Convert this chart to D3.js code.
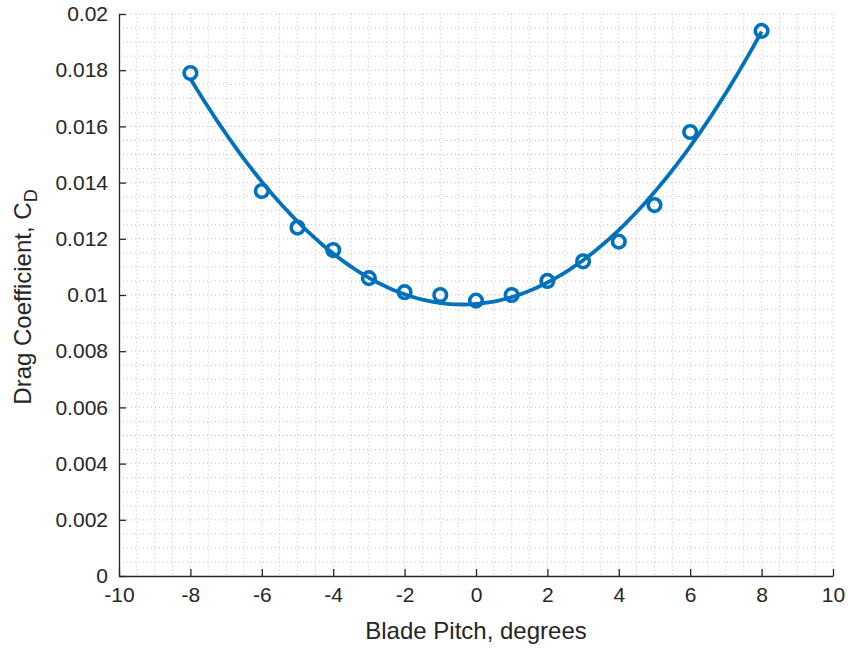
<!DOCTYPE html>
<html>
<head>
<meta charset="utf-8">
<script src="https://cdn.jsdelivr.net/npm/d3@7"></script>
<style>
  body { margin: 0; background: #fff; }
  svg { font-family: "Liberation Sans", Arial, sans-serif; }
</style>
</head>
<body>
<div id="chart"></div>
<script>
// Data
const pitch = [-8, -6, -5, -4, -3, -2, -1, 0, 1, 2, 3, 4, 5, 6, 8];
const dragCoef = [0.0179, 0.0137, 0.0124, 0.0116, 0.0106, 0.0101, 0.0100, 0.0098, 0.0100, 0.0105, 0.0112, 0.0119, 0.0132, 0.0158, 0.0194];
const xTicks = [-10, -8, -6, -4, -2, 0, 2, 4, 6, 8, 10];
const yTicks = [0, 0.002, 0.004, 0.006, 0.008, 0.01, 0.012, 0.014, 0.016, 0.018, 0.02];

const W = 848, H = 650;
const margin = {top: 14, right: 15, bottom: 74, left: 119};
const width = W - margin.left - margin.right;
const height = H - margin.top - margin.bottom;
const blue = "#0072BD";

const svg = d3.select("#chart").append("svg")
    .attr("width", W)
    .attr("height", H);
const g = svg.append("g")
    .attr("transform", `translate(${margin.left},${margin.top})`);

const x = d3.scaleLinear().domain([-10, 10]).range([0, width]);
const y = d3.scaleLinear().domain([0, 0.02]).range([height, 0]);

// dotted grid (minor + major)
const gridX = d3.range(-10, 10.001, 0.5);
const gridY = d3.range(0, 0.02001, 0.0005);
g.append("g").selectAll("line").data(gridX.filter(d => d > -10)).enter().append("line")
    .attr("x1", d => x(d)).attr("x2", d => x(d))
    .attr("y1", 0).attr("y2", height)
    .attr("stroke", "#c4c4c4").attr("stroke-width", 1)
    .attr("stroke-dasharray", "1,3");
g.append("g").selectAll("line").data(gridY.filter(d => d > 0)).enter().append("line")
    .attr("x1", 0).attr("x2", width)
    .attr("y1", d => y(d)).attr("y2", d => y(d))
    .attr("stroke", "#c4c4c4").attr("stroke-width", 1)
    .attr("stroke-dasharray", "1,3");

// axes, ticks pointing inward
const xAxis = g.append("g")
    .attr("transform", `translate(0,${height})`)
    .call(d3.axisBottom(x).tickValues(xTicks).tickSizeInner(-7).tickSizeOuter(0).tickPadding(11)
        .tickFormat(d => String(d)));
const yAxis = g.append("g")
    .call(d3.axisLeft(y).tickValues(yTicks).tickSizeInner(-7).tickSizeOuter(0).tickPadding(11)
        .tickFormat(d => d === 0 ? "0" : String(+d.toFixed(3))));
[xAxis, yAxis].forEach(a => {
    a.select(".domain").attr("stroke", "#262626").attr("stroke-width", 1.3);
    a.selectAll(".tick line").attr("stroke", "#262626").attr("stroke-width", 1.3);
    a.selectAll(".tick text").attr("fill", "#262626").style("font-size", "21px");
});

// quadratic least squares fit of the data
function polyfit(xs, ys, order) {
    const n = order + 1;
    const A = [];
    for (let i = 0; i < n; i++) {
        A.push([]);
        for (let j = 0; j <= n; j++) A[i].push(0);
    }
    xs.forEach((xv, k) => {
        for (let i = 0; i < n; i++) {
            for (let j = 0; j < n; j++) A[i][j] += Math.pow(xv, i + j);
            A[i][n] += ys[k] * Math.pow(xv, i);
        }
    });
    for (let i = 0; i < n; i++) {
        for (let r = i + 1; r < n; r++) {
            const f = A[r][i] / A[i][i];
            for (let c = i; c <= n; c++) A[r][c] -= f * A[i][c];
        }
    }
    const coef = new Array(n).fill(0);
    for (let i = n - 1; i >= 0; i--) {
        let s = A[i][n];
        for (let j = i + 1; j < n; j++) s -= A[i][j] * coef[j];
        coef[i] = s / A[i][i];
    }
    return xv => coef.reduce((acc, c, i) => acc + c * Math.pow(xv, i), 0);
}
const fit = polyfit(pitch, dragCoef, 2);
const fitPts = d3.range(-8, 8.001, 0.1).map(d => [d, fit(d)]);

g.append("path")
    .datum(fitPts)
    .attr("fill", "none")
    .attr("stroke", blue)
    .attr("stroke-width", 3.8)
    .attr("d", d3.line().x(d => x(d[0])).y(d => y(d[1])));

g.append("g").selectAll("circle").data(pitch).enter().append("circle")
    .attr("cx", d => x(d))
    .attr("cy", (d, i) => y(dragCoef[i]))
    .attr("r", 6.3)
    .attr("fill", "none")
    .attr("stroke", blue)
    .attr("stroke-width", 3.6);

// labels
svg.append("text")
    .attr("x", margin.left + width / 2)
    .attr("y", 639)
    .attr("text-anchor", "middle")
    .attr("fill", "#262626")
    .style("font-size", "24px")
    .text("Blade Pitch, degrees");

const yl = svg.append("text")
    .attr("transform", `translate(31,${margin.top + height / 2 + 2}) rotate(-90)`)
    .attr("text-anchor", "middle")
    .attr("fill", "#262626")
    .style("font-size", "24px");
yl.append("tspan").text("Drag Coefficient, C");
yl.append("tspan").attr("dy", 6).style("font-size", "18px").text("D");
</script>
</body>
</html>
